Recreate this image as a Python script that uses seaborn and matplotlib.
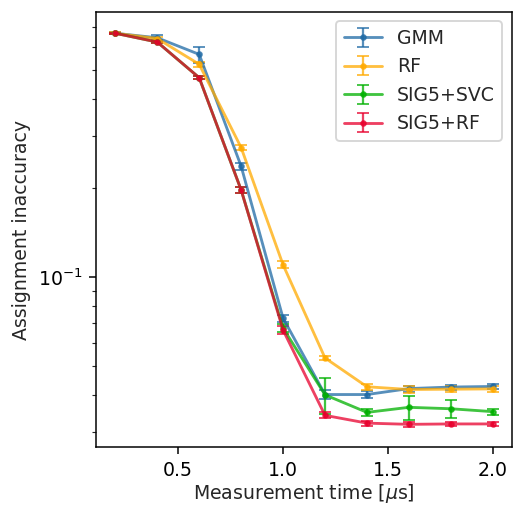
import numpy as np
import pandas as pd
import matplotlib
matplotlib.use("Agg")
import matplotlib.pyplot as plt
import seaborn as sns

times = [0.2, 0.4, 0.6, 0.8, 1.0, 1.2, 1.4, 1.6, 1.8, 2.0]
labels = ["GMM", "RF", "SIG5+SVC", "SIG5+RF"]
gmm = [0.667, 0.644, 0.566, 0.237, 0.0726, 0.0401, 0.0401, 0.0420, 0.0425, 0.0427]
gmm_err = [0.005, 0.012, 0.035, 0.006, 0.002, 0.0015, 0.001, 0.001, 0.0008, 0.0008]
rf = [0.667, 0.640, 0.524, 0.274, 0.110, 0.0533, 0.0426, 0.0417, 0.0418, 0.0419]
rf_err = [0.005, 0.008, 0.010, 0.006, 0.003, 0.001, 0.001, 0.001, 0.001, 0.001]
svc = [0.667, 0.623, 0.472, 0.197, 0.0672, 0.0400, 0.0349, 0.0363, 0.0359, 0.0351]
svc_err = [0.004, 0.005, 0.006, 0.004, 0.002, 0.0056, 0.001, 0.0033, 0.0024, 0.0008]
sigrf = [0.667, 0.623, 0.472, 0.197, 0.0662, 0.0341, 0.0321, 0.0318, 0.0319, 0.0319]
sigrf_err = [0.004, 0.005, 0.006, 0.004, 0.002, 0.0008, 0.0006, 0.0006, 0.0006, 0.0005]
colors = ["#1f6aa5", "#ffaa00", "#00b000", "#e8002d"]

sns.set_style("ticks")
plt.rcParams['font.family'] = ['DejaVu Sans']

DPI = 136
fig = plt.figure(figsize=(514/DPI, 505/DPI), dpi=DPI)
ax = fig.add_axes([0.1868, 0.1143, 0.9955-0.1868, 0.9762-0.1143])

series = [gmm, rf, svc, sigrf]
errs = [gmm_err, rf_err, svc_err, sigrf_err]
for lab, vals, err, c in zip(labels, series, errs, colors):
    ax.errorbar(times, vals, yerr=err, label=lab, color=c, alpha=0.75,
                marker='o', markersize=2.5, lw=1.5, capsize=3.3, elinewidth=1.2)

ax.set_yscale('log')
ax.set_ylim(0.0266, 0.787)
ax.set_xlim(0.108, 2.09)
ax.set_xticks([0.5, 1.0, 1.5, 2.0])
ax.set_xlabel("Measurement time [$\\mu$s]", labelpad=1.5)
ax.set_ylabel("Assignment inaccuracy")
for s in ax.spines.values():
    s.set_visible(True)
    s.set_color('black')
ax.tick_params(colors='black')
ax.legend(loc='upper right', fontsize=10)
fig.savefig("out.png", dpi=DPI)
